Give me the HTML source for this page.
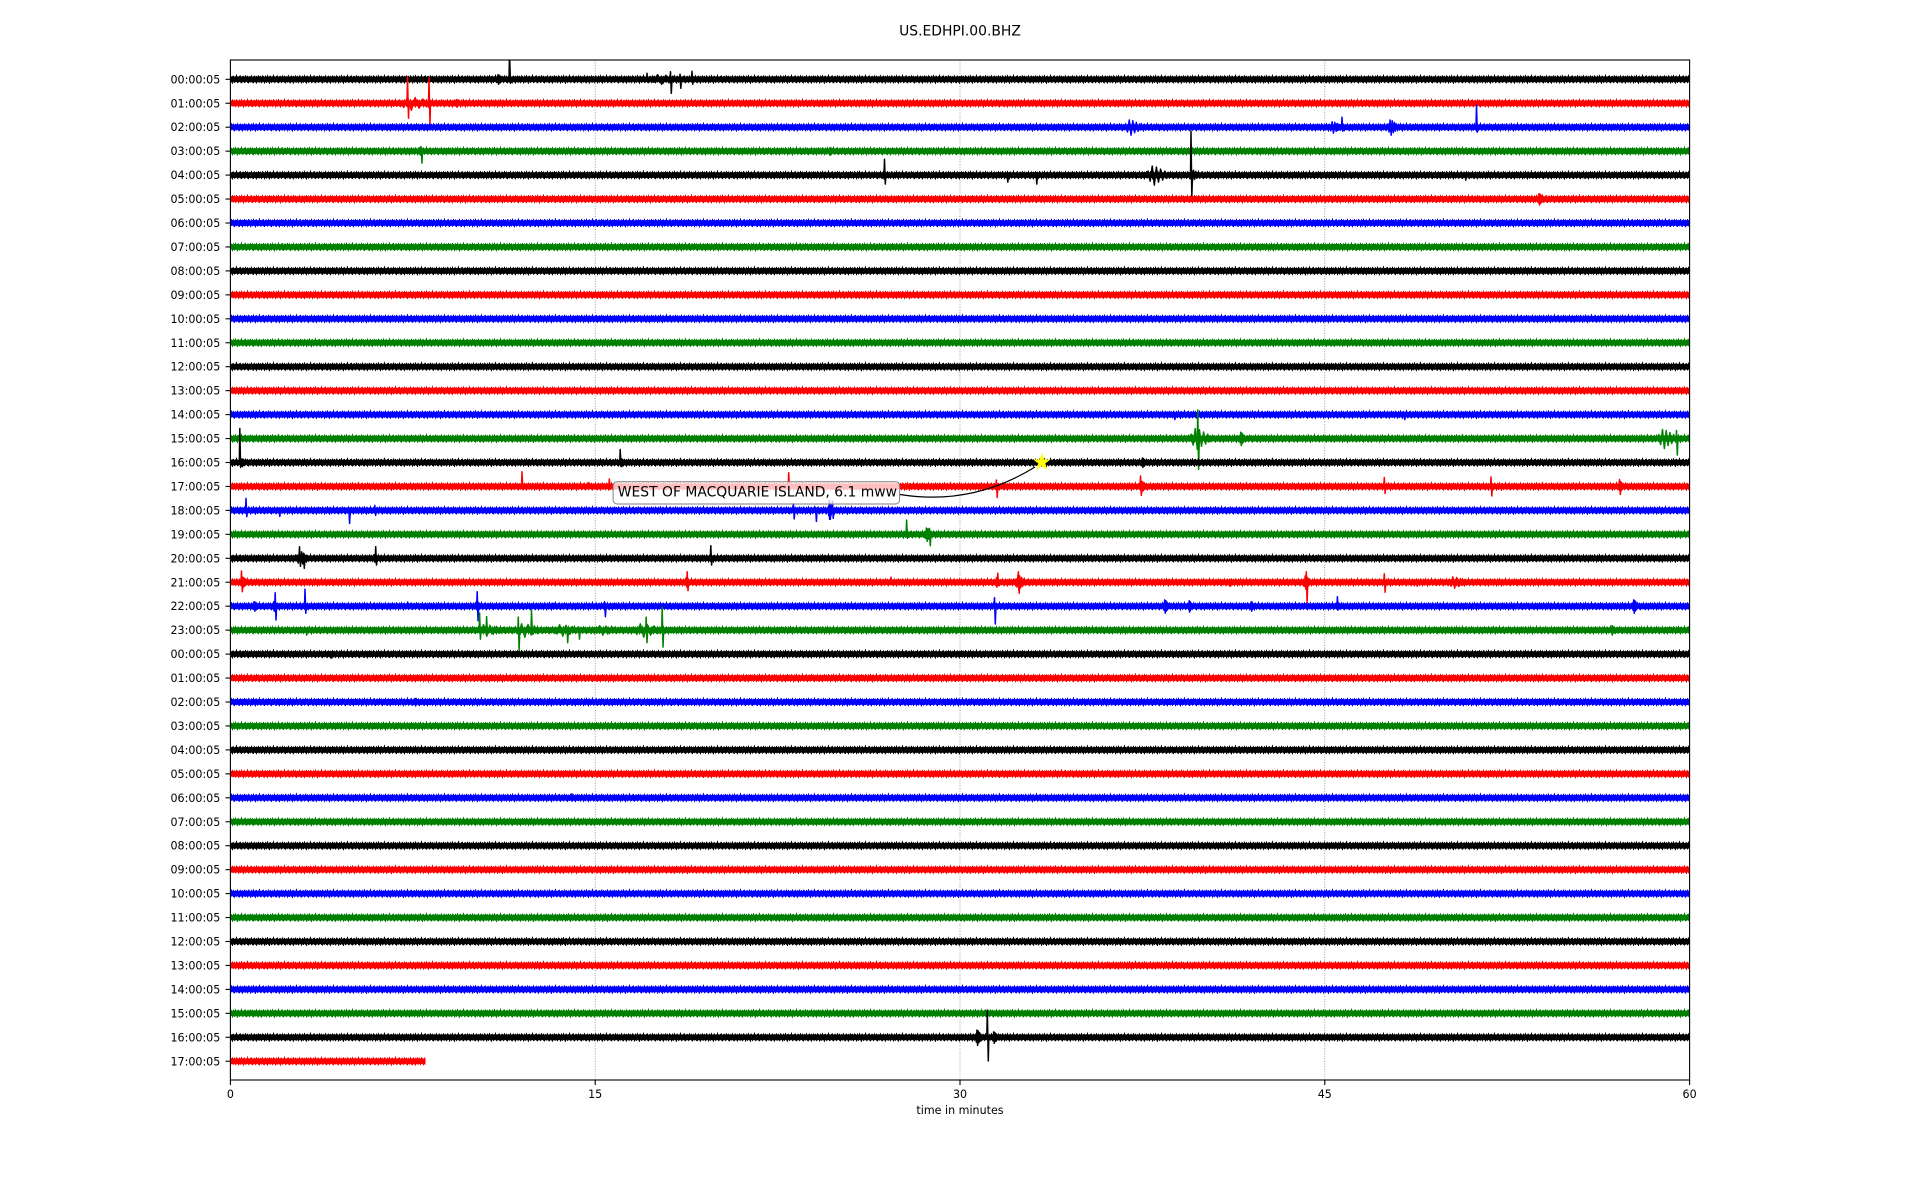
<!DOCTYPE html>
<html>
<head>
<meta charset="utf-8">
<style>
html,body{margin:0;padding:0;background:#fff;}
svg{display:block;}
text{font-family:"DejaVu Sans","Liberation Sans",sans-serif;fill:#000;}
</style>
</head>
<body>
<svg width="1920" height="1200" viewBox="0 0 1920 1200" xmlns="http://www.w3.org/2000/svg">
<defs>
<clipPath id="ax"><rect x="230.4" y="60" width="1459.2" height="1020"/></clipPath>
<path id="b" fill="none" vector-effect="non-scaling-stroke" d="M0,0 L0.08,-0.4 0.16,0.6 0.24,-0.9 0.32,1 0.4,-0.8 0.48,0.7 0.56,-0.6 0.64,0.5 0.72,-0.4 0.8,0.3 0.88,-0.2 0.96,0.1 1,0"/>
<path id="nz" fill="none" stroke-width="1" d="M0.5,3V9.4M1.5,2.5V8.9M2.5,3.2V9.9M3.5,2V9M4.5,2.8V8.7M5.5,3.4V10.2M6.5,2.2V9.1M7.5,3V9.5M8.5,1.6V8.8M9.5,3.1V9.3M10.5,2.7V10.5M11.5,2.4V8.9M12.5,3.3V9.6M13.5,2.9V9M14.5,1.2V8.8M15.5,3V9.8M16.5,3.2V9.2M17.5,2.5V8.7M18.5,2.1V9.4M19.5,3.4V10M20.5,2.8V9.1M21.5,2.6V8.9M22.5,3.1V9.7M23.5,1.9V9M24.5,3V8.6M25.5,2.4V9.5M26.5,3.3V10.1M27.5,2.7V9M28.5,3V9.3M29.5,1.7V8.8M30.5,3.2V9.6M31.5,2.9V9.9M32.5,2.3V8.9M33.5,3.1V9.2M34.5,2.6V10.4M35.5,3V9M36.5,2V9.1"/>
<pattern id="pk" patternUnits="userSpaceOnUse" x="0" y="-6" width="37" height="12"><use href="#nz" stroke="#000"/></pattern>
<pattern id="pr" patternUnits="userSpaceOnUse" x="11" y="-6" width="37" height="12"><use href="#nz" stroke="#ff0000"/></pattern>
<pattern id="pb" patternUnits="userSpaceOnUse" x="23" y="-6" width="37" height="12"><use href="#nz" stroke="#0000ff"/></pattern>
<pattern id="pg" patternUnits="userSpaceOnUse" x="5" y="-6" width="37" height="12"><use href="#nz" stroke="#008000"/></pattern>
</defs>

<rect x="0" y="0" width="1920" height="1200" fill="#fff"/>

<text x="960" y="35.7" font-size="13.9" text-anchor="middle">US.EDHPI.00.BHZ</text>

<g stroke="#8a8a8a" stroke-width="0.8" stroke-dasharray="1,1.6">
<line x1="595.2" y1="60" x2="595.2" y2="1080"/>
<line x1="960" y1="60" x2="960" y2="1080"/>
<line x1="1324.8" y1="60" x2="1324.8" y2="1080"/>
</g>

<g clip-path="url(#ax)" fill="none" stroke-width="1.5" stroke-linejoin="round">
<g transform="translate(0,79.3)" stroke="#000">
<rect x="230" y="-2.5" width="1460" height="5" fill="#000" stroke="none"/><rect x="230" y="-6" width="1460" height="12" fill="url(#pk)" stroke="none"/>
<use href="#b" transform="translate(496,0) scale(8,5)"/>
<use href="#b" transform="translate(645,0) scale(52,5)"/>
<path d="M509,0 L509.5,-26 L510.5,4 L511,0"/>
<path d="M670,0 L670.5,-7.6 L671.3,14 L672,0"/>
<path d="M679.5,0 L680,-5 L680.8,9 L681.5,0"/>
<path d="M691.5,0 L692,-8 L692.8,5 L693.5,0"/>
<path d="M646.5,0 L647,-6 L647.8,3 L648.5,0"/>
</g>
<g transform="translate(0,103.25)" stroke="#ff0000">
<rect x="230" y="-2.5" width="1460" height="5" fill="#ff0000" stroke="none"/><rect x="230" y="-6" width="1460" height="12" fill="url(#pr)" stroke="none"/>
<use href="#b" transform="translate(396,0) scale(48,7)"/>
<path d="M407,0 L407.5,-26.5 L408.5,15 L409,0"/>
<path d="M428.5,0 L429,-25.5 L430,21 L430.5,0"/>
<use href="#b" transform="translate(455,0) scale(6,4)"/>
</g>
<g transform="translate(0,127.2)" stroke="#0000ff">
<rect x="230" y="-2.5" width="1460" height="5" fill="#0000ff" stroke="none"/><rect x="230" y="-6" width="1460" height="12" fill="url(#pb)" stroke="none"/>
<use href="#b" transform="translate(1124,0) scale(22,8)"/>
<use href="#b" transform="translate(1328,0) scale(17,6)"/>
<path d="M1341.5,0 L1342,-10 L1342.8,4 L1343.5,0"/>
<use href="#b" transform="translate(1387,0) scale(13,8)"/>
<path d="M1476,0 L1476.5,-22 L1477.3,5 L1478,0"/>
</g>
<g transform="translate(0,151.15)" stroke="#008000">
<rect x="230" y="-2.5" width="1460" height="5" fill="#008000" stroke="none"/><rect x="230" y="-6" width="1460" height="12" fill="url(#pg)" stroke="none"/>
<use href="#b" transform="translate(418,0) scale(8,4)"/>
<path d="M420.5,0 L421,-4.5 L422,12 L422.5,0"/>
<use href="#b" transform="translate(829,0) scale(5,4)"/>
</g>
<g transform="translate(0,175.1)" stroke="#000">
<rect x="230" y="-2.5" width="1460" height="5" fill="#000" stroke="none"/><rect x="230" y="-6" width="1460" height="12" fill="url(#pk)" stroke="none"/>
<use href="#b" transform="translate(882,0) scale(7,4)"/>
<path d="M884,0 L884.5,-15.8 L885.3,9 L886,0"/>
<path d="M1006.5,0 L1007,-2 L1007.8,7 L1008.5,0"/>
<path d="M1035.5,0 L1036,-2 L1036.8,9 L1037.5,0"/>
<use href="#b" transform="translate(1146,0) scale(26,10)"/>
<use href="#b" transform="translate(1188,0) scale(14,6)"/>
<path d="M1190.5,0 L1191,-44 L1191.8,21.6 L1192.5,0"/>
<path d="M1464.5,0 L1465,-2 L1465.8,5 L1466.5,0"/>
</g>
<g transform="translate(0,199.05)" stroke="#ff0000">
<rect x="230" y="-2.5" width="1460" height="5" fill="#ff0000" stroke="none"/><rect x="230" y="-6" width="1460" height="12" fill="url(#pr)" stroke="none"/>
<use href="#b" transform="translate(1537,0) scale(8,6)"/>
</g>
<g transform="translate(0,223)"><rect x="230" y="-2.5" width="1460" height="5" fill="#0000ff"/><rect x="230" y="-6" width="1460" height="12" fill="url(#pb)"/></g>
<g transform="translate(0,246.95)"><rect x="230" y="-2.5" width="1460" height="5" fill="#008000"/><rect x="230" y="-6" width="1460" height="12" fill="url(#pg)"/></g>
<g transform="translate(0,270.9)"><rect x="230" y="-2.5" width="1460" height="5" fill="#000"/><rect x="230" y="-6" width="1460" height="12" fill="url(#pk)"/></g>
<g transform="translate(0,294.85)"><rect x="230" y="-2.5" width="1460" height="5" fill="#ff0000"/><rect x="230" y="-6" width="1460" height="12" fill="url(#pr)"/></g>
<g transform="translate(0,318.8)"><rect x="230" y="-2.5" width="1460" height="5" fill="#0000ff"/><rect x="230" y="-6" width="1460" height="12" fill="url(#pb)"/></g>
<g transform="translate(0,342.75)"><rect x="230" y="-2.5" width="1460" height="5" fill="#008000"/><rect x="230" y="-6" width="1460" height="12" fill="url(#pg)"/></g>
<g transform="translate(0,366.7)"><rect x="230" y="-2.5" width="1460" height="5" fill="#000"/><rect x="230" y="-6" width="1460" height="12" fill="url(#pk)"/></g>
<g transform="translate(0,390.65)"><rect x="230" y="-2.5" width="1460" height="5" fill="#ff0000"/><rect x="230" y="-6" width="1460" height="12" fill="url(#pr)"/></g>
<g transform="translate(0,414.6)" stroke="#0000ff">
<rect x="230" y="-2.5" width="1460" height="5" fill="#0000ff" stroke="none"/><rect x="230" y="-6" width="1460" height="12" fill="url(#pb)" stroke="none"/>
<path d="M1173.5,0 L1174,-2 L1174.8,5 L1175.5,0"/>
<path d="M1403.5,0 L1404,-2 L1404.8,5 L1405.5,0"/>
</g>
<g transform="translate(0,438.55)" stroke="#008000">
<rect x="230" y="-2.5" width="1460" height="5" fill="#008000" stroke="none"/><rect x="230" y="-6" width="1460" height="12" fill="url(#pg)" stroke="none"/>
<use href="#b" transform="translate(1189,0) scale(26,11)"/>
<path d="M1197.3,0 L1197.8,-28.5 L1198.6,30.8 L1199.3,0"/>
<use href="#b" transform="translate(1239,0) scale(7,7)"/>
<use href="#b" transform="translate(1657,0) scale(23,10)"/>
<path d="M1676,0 L1676.5,-8 L1677.3,16.5 L1678,0"/>
</g>
<g transform="translate(0,462.5)" stroke="#000">
<rect x="230" y="-2.5" width="1460" height="5" fill="#000" stroke="none"/><rect x="230" y="-6" width="1460" height="12" fill="url(#pk)" stroke="none"/>
<use href="#b" transform="translate(240,0) scale(8,4)"/>
<path d="M239.3,0 L239.8,-34 L240.6,5 L241.3,0"/>
<use href="#b" transform="translate(620,0) scale(6,4)"/>
<path d="M619.7,0 L620.2,-13 L621,4 L621.7,0"/>
<use href="#b" transform="translate(1141,0) scale(6,5)"/>
</g>
<g transform="translate(0,486.45)" stroke="#ff0000">
<rect x="230" y="-2.5" width="1460" height="5" fill="#ff0000" stroke="none"/><rect x="230" y="-6" width="1460" height="12" fill="url(#pr)" stroke="none"/>
<path d="M521.5,0 L522,-14.7 L522.8,3 L523.5,0"/>
<path d="M587.5,0 L588,-4 L588.8,2 L589.5,0"/>
<path d="M608.8,0 L609.3,-7.5 L610,3 L610.8,0"/>
<path d="M788.2,0 L788.7,-13.7 L789.5,3 L790.2,0"/>
<path d="M995.9,0 L996.4,-6.5 L997.2,11 L997.9,0"/>
<use href="#b" transform="translate(1139,0) scale(9,6)"/>
<path d="M1140,0 L1140.5,-10.5 L1141.3,9 L1142,0"/>
<path d="M1383.8,0 L1384.3,-9 L1385.1,7 L1385.8,0"/>
<path d="M1490.5,0 L1491,-9.5 L1491.8,9.5 L1492.5,0"/>
<use href="#b" transform="translate(1618,0) scale(7,6)"/>
<path d="M1619,0 L1619.5,-7 L1620.3,8 L1621,0"/>
</g>
<g transform="translate(0,510.4)" stroke="#0000ff">
<rect x="230" y="-2.5" width="1460" height="5" fill="#0000ff" stroke="none"/><rect x="230" y="-6" width="1460" height="12" fill="url(#pb)" stroke="none"/>
<path d="M245.5,0 L246,-12 L246.8,6.3 L247.5,0"/>
<path d="M278.5,0 L279,-2 L279.8,6 L280.5,0"/>
<path d="M348.3,0 L348.8,-3 L349.6,13 L350.3,0"/>
<path d="M374.3,0 L374.8,-5 L375.6,5 L376.3,0"/>
<path d="M792.9,0 L793.4,-7 L794.2,8.6 L794.9,0"/>
<path d="M815.1,0 L815.6,-3 L816.4,11 L817.1,0"/>
<use href="#b" transform="translate(828,0) scale(5,9)"/>
<path d="M829,0 L829.5,-10 L830.3,9 L831,0"/>
<path d="M832,0 L832.5,-9 L833.2,8 L834,0"/>
</g>
<g transform="translate(0,534.35)" stroke="#008000">
<rect x="230" y="-2.5" width="1460" height="5" fill="#008000" stroke="none"/><rect x="230" y="-6" width="1460" height="12" fill="url(#pg)" stroke="none"/>
<path d="M906.1,0 L906.6,-14.4 L907.4,4 L908.1,0"/>
<use href="#b" transform="translate(924,0) scale(10,7)"/>
<path d="M929,0 L929.5,-6 L930.3,11.4 L931,0"/>
</g>
<g transform="translate(0,558.3)" stroke="#000">
<rect x="230" y="-2.5" width="1460" height="5" fill="#000" stroke="none"/><rect x="230" y="-6" width="1460" height="12" fill="url(#pk)" stroke="none"/>
<use href="#b" transform="translate(296,0) scale(14,8)"/>
<path d="M299,0 L299.5,-11.6 L300.3,6 L301,0"/>
<path d="M303,0 L303.5,-5 L304.3,10 L305,0"/>
<use href="#b" transform="translate(373,0) scale(6,4)"/>
<path d="M375.2,0 L375.7,-11.6 L376.5,6.7 L377.2,0"/>
<path d="M710.3,0 L710.8,-12.6 L711.6,6.7 L712.3,0"/>
</g>
<g transform="translate(0,582.25)" stroke="#ff0000">
<rect x="230" y="-2.5" width="1460" height="5" fill="#ff0000" stroke="none"/><rect x="230" y="-6" width="1460" height="12" fill="url(#pr)" stroke="none"/>
<use href="#b" transform="translate(240,0) scale(9,6)"/>
<path d="M241,0 L241.5,-11.3 L242.3,9.5 L243,0"/>
<use href="#b" transform="translate(685,0) scale(6,5)"/>
<path d="M686.7,0 L687.2,-10.5 L688,8.5 L688.7,0"/>
<path d="M890.5,0 L891,-5 L891.8,2 L892.5,0"/>
<use href="#b" transform="translate(995,0) scale(6,5)"/>
<path d="M997.3,0 L997.8,-9 L998.6,3 L999.3,0"/>
<use href="#b" transform="translate(1015,0) scale(12,8)"/>
<path d="M1017.9,0 L1018.4,-10.5 L1019.2,11 L1019.9,0"/>
<path d="M1229.3,0 L1229.8,-3 L1230.6,4 L1231.3,0"/>
<use href="#b" transform="translate(1303,0) scale(9,7)"/>
<path d="M1305.8,0 L1306.3,-10.5 L1307.1,21 L1307.8,0"/>
<path d="M1383.8,0 L1384.3,-8.5 L1385.1,10 L1385.8,0"/>
<path d="M1416,0 L1416.4,-2 L1417.2,4 L1418,0"/>
<use href="#b" transform="translate(1447,0) scale(24,6)"/>
</g>
<g transform="translate(0,606.2)" stroke="#0000ff">
<rect x="230" y="-2.5" width="1460" height="5" fill="#0000ff" stroke="none"/><rect x="230" y="-6" width="1460" height="12" fill="url(#pb)" stroke="none"/>
<use href="#b" transform="translate(252,0) scale(9,5)"/>
<use href="#b" transform="translate(272,0) scale(7,5)"/>
<path d="M274.7,0 L275.2,-13.5 L276,13.8 L276.7,0"/>
<path d="M304.5,0 L305,-17 L305.8,7 L306.5,0"/>
<path d="M407.3,0 L407.8,-4 L408.6,3 L409.3,0"/>
<use href="#b" transform="translate(475,0) scale(8,5)"/>
<path d="M476.7,0 L477.2,-14.5 L478,14.5 L478.7,0"/>
<path d="M553.5,0 L554,-3 L554.8,2 L555.5,0"/>
<path d="M604.1,0 L604.6,-4.5 L605.4,10.5 L606.1,0"/>
<path d="M994,0 L994.5,-8.5 L995.3,17.8 L996,0"/>
<use href="#b" transform="translate(1163,0) scale(7,7)"/>
<use href="#b" transform="translate(1188,0) scale(5,6)"/>
<use href="#b" transform="translate(1250,0) scale(5,5)"/>
<use href="#b" transform="translate(1336,0) scale(6,4)"/>
<path d="M1336.9,0 L1337.4,-9.5 L1338.2,3 L1338.9,0"/>
<use href="#b" transform="translate(1632,0) scale(7,7)"/>
</g>
<g transform="translate(0,630.15)" stroke="#008000">
<rect x="230" y="-2.5" width="1460" height="5" fill="#008000" stroke="none"/><rect x="230" y="-6" width="1460" height="12" fill="url(#pg)" stroke="none"/>
<path d="M305.4,0 L305.9,-2 L306.7,5 L307.4,0"/>
<use href="#b" transform="translate(474,0) scale(40,6)"/>
<use href="#b" transform="translate(512,0) scale(40,7)"/>
<use href="#b" transform="translate(550,0) scale(40,6)"/>
<use href="#b" transform="translate(590,0) scale(40,5)"/>
<use href="#b" transform="translate(630,0) scale(43,7)"/>
<path d="M479.1,0 L479.6,-17 L480.4,9 L481.1,0"/>
<path d="M486.1,0 L486.6,-13.5 L487.4,3 L488.1,0"/>
<path d="M517.8,0 L518.3,-13 L519.1,20.5 L519.8,0"/>
<path d="M531,0 L531.5,-20 L532.3,4 L533,0"/>
<path d="M566.4,0 L566.9,-3 L567.7,12.5 L568.4,0"/>
<path d="M578.2,0 L578.7,-3 L579.5,9 L580.2,0"/>
<path d="M645.7,0 L646.2,-13 L647,12.5 L647.7,0"/>
<path d="M661.7,0 L662.2,-23 L663,17 L663.7,0"/>
<use href="#b" transform="translate(1611,0) scale(4,5)"/>
</g>
<g transform="translate(0,654.1)" stroke="#000">
<rect x="230" y="-2.5" width="1460" height="5" fill="#000" stroke="none"/><rect x="230" y="-6" width="1460" height="12" fill="url(#pk)" stroke="none"/>
<path d="M330.5,0 L331,-2 L331.8,4 L332.5,0"/>
</g>
<g transform="translate(0,678.05)"><rect x="230" y="-2.5" width="1460" height="5" fill="#ff0000"/><rect x="230" y="-6" width="1460" height="12" fill="url(#pr)"/></g>
<g transform="translate(0,702)" stroke="#0000ff"><rect x="230" y="-2.5" width="1460" height="5" fill="#0000ff" stroke="none"/><rect x="230" y="-6" width="1460" height="12" fill="url(#pb)" stroke="none"/><use href="#b" transform="translate(414,0) scale(5,4)"/></g>
<g transform="translate(0,725.95)"><rect x="230" y="-2.5" width="1460" height="5" fill="#008000"/><rect x="230" y="-6" width="1460" height="12" fill="url(#pg)"/></g>
<g transform="translate(0,749.9)"><rect x="230" y="-2.5" width="1460" height="5" fill="#000"/><rect x="230" y="-6" width="1460" height="12" fill="url(#pk)"/></g>
<g transform="translate(0,773.85)"><rect x="230" y="-2.5" width="1460" height="5" fill="#ff0000"/><rect x="230" y="-6" width="1460" height="12" fill="url(#pr)"/></g>
<g transform="translate(0,797.8)" stroke="#0000ff"><rect x="230" y="-2.5" width="1460" height="5" fill="#0000ff" stroke="none"/><rect x="230" y="-6" width="1460" height="12" fill="url(#pb)" stroke="none"/><path d="M571.5,0 L572,-4 L572.8,2 L573.5,0"/></g>
<g transform="translate(0,821.75)"><rect x="230" y="-2.5" width="1460" height="5" fill="#008000"/><rect x="230" y="-6" width="1460" height="12" fill="url(#pg)"/></g>
<g transform="translate(0,845.7)"><rect x="230" y="-2.5" width="1460" height="5" fill="#000"/><rect x="230" y="-6" width="1460" height="12" fill="url(#pk)"/></g>
<g transform="translate(0,869.65)"><rect x="230" y="-2.5" width="1460" height="5" fill="#ff0000"/><rect x="230" y="-6" width="1460" height="12" fill="url(#pr)"/></g>
<g transform="translate(0,893.6)"><rect x="230" y="-2.5" width="1460" height="5" fill="#0000ff"/><rect x="230" y="-6" width="1460" height="12" fill="url(#pb)"/></g>
<g transform="translate(0,917.55)"><rect x="230" y="-2.5" width="1460" height="5" fill="#008000"/><rect x="230" y="-6" width="1460" height="12" fill="url(#pg)"/></g>
<g transform="translate(0,941.5)"><rect x="230" y="-2.5" width="1460" height="5" fill="#000"/><rect x="230" y="-6" width="1460" height="12" fill="url(#pk)"/></g>
<g transform="translate(0,965.45)"><rect x="230" y="-2.5" width="1460" height="5" fill="#ff0000"/><rect x="230" y="-6" width="1460" height="12" fill="url(#pr)"/></g>
<g transform="translate(0,989.4)"><rect x="230" y="-2.5" width="1460" height="5" fill="#0000ff"/><rect x="230" y="-6" width="1460" height="12" fill="url(#pb)"/></g>
<g transform="translate(0,1013.35)"><rect x="230" y="-2.5" width="1460" height="5" fill="#008000"/><rect x="230" y="-6" width="1460" height="12" fill="url(#pg)"/></g>
<g transform="translate(0,1037.3)" stroke="#000">
<rect x="230" y="-2.5" width="1460" height="5" fill="#000" stroke="none"/><rect x="230" y="-6" width="1460" height="12" fill="url(#pk)" stroke="none"/>
<use href="#b" transform="translate(975,0) scale(8,8)"/>
<path d="M986.8,0 L987.3,-27.3 L988.3,23.7 L988.8,0"/>
<use href="#b" transform="translate(992,0) scale(7,6)"/>
</g>
<g transform="translate(0,1061.25)"><rect x="230" y="-2.5" width="195.5" height="5" fill="#ff0000"/><rect x="230" y="-6" width="195.5" height="12" fill="url(#pr)"/></g>
</g>

<path d="M900,494.5 Q972,506 1035,467" fill="none" stroke="#000" stroke-width="1.2"/>
<polygon points="1041.8,454.3 1043.7,459.7 1049.4,459.8 1044.9,463.3 1046.5,468.8 1041.8,465.6 1037.1,468.8 1038.7,463.3 1034.2,459.8 1039.9,459.7" fill="#ffff00" stroke="#ffff00" stroke-width="0.8"/>
<rect x="613.1" y="481.7" width="286.5" height="22.3" rx="4" ry="4" fill="#fff" fill-opacity="0.75" stroke="#7f7f7f" stroke-width="1"/>
<text x="617.8" y="496.7" font-size="13.9">WEST OF MACQUARIE ISLAND, 6.1 mww</text>

<rect x="230.4" y="60" width="1459.2" height="1020" fill="none" stroke="#000" stroke-width="1.1"/>

<g stroke="#000" stroke-width="1.1">
<line x1="230.4" y1="1080" x2="230.4" y2="1085"/>
<line x1="595.2" y1="1080" x2="595.2" y2="1085"/>
<line x1="960" y1="1080" x2="960" y2="1085"/>
<line x1="1324.8" y1="1080" x2="1324.8" y2="1085"/>
<line x1="1689.6" y1="1080" x2="1689.6" y2="1085"/>
</g>
<g font-size="11.1" text-anchor="middle">
<text x="230.4" y="1098">0</text>
<text x="595.2" y="1098">15</text>
<text x="960" y="1098">30</text>
<text x="1324.8" y="1098">45</text>
<text x="1689.6" y="1098">60</text>
<text x="960" y="1114">time in minutes</text>
</g>

<g stroke="#000" stroke-width="1.1">
<line x1="225.5" y1="79.3" x2="230.4" y2="79.3"/><line x1="225.5" y1="103.25" x2="230.4" y2="103.25"/><line x1="225.5" y1="127.2" x2="230.4" y2="127.2"/><line x1="225.5" y1="151.15" x2="230.4" y2="151.15"/><line x1="225.5" y1="175.1" x2="230.4" y2="175.1"/><line x1="225.5" y1="199.05" x2="230.4" y2="199.05"/><line x1="225.5" y1="223" x2="230.4" y2="223"/><line x1="225.5" y1="246.95" x2="230.4" y2="246.95"/><line x1="225.5" y1="270.9" x2="230.4" y2="270.9"/><line x1="225.5" y1="294.85" x2="230.4" y2="294.85"/><line x1="225.5" y1="318.8" x2="230.4" y2="318.8"/><line x1="225.5" y1="342.75" x2="230.4" y2="342.75"/><line x1="225.5" y1="366.7" x2="230.4" y2="366.7"/><line x1="225.5" y1="390.65" x2="230.4" y2="390.65"/><line x1="225.5" y1="414.6" x2="230.4" y2="414.6"/><line x1="225.5" y1="438.55" x2="230.4" y2="438.55"/><line x1="225.5" y1="462.5" x2="230.4" y2="462.5"/><line x1="225.5" y1="486.45" x2="230.4" y2="486.45"/><line x1="225.5" y1="510.4" x2="230.4" y2="510.4"/><line x1="225.5" y1="534.35" x2="230.4" y2="534.35"/><line x1="225.5" y1="558.3" x2="230.4" y2="558.3"/><line x1="225.5" y1="582.25" x2="230.4" y2="582.25"/><line x1="225.5" y1="606.2" x2="230.4" y2="606.2"/><line x1="225.5" y1="630.15" x2="230.4" y2="630.15"/><line x1="225.5" y1="654.1" x2="230.4" y2="654.1"/><line x1="225.5" y1="678.05" x2="230.4" y2="678.05"/><line x1="225.5" y1="702" x2="230.4" y2="702"/><line x1="225.5" y1="725.95" x2="230.4" y2="725.95"/><line x1="225.5" y1="749.9" x2="230.4" y2="749.9"/><line x1="225.5" y1="773.85" x2="230.4" y2="773.85"/><line x1="225.5" y1="797.8" x2="230.4" y2="797.8"/><line x1="225.5" y1="821.75" x2="230.4" y2="821.75"/><line x1="225.5" y1="845.7" x2="230.4" y2="845.7"/><line x1="225.5" y1="869.65" x2="230.4" y2="869.65"/><line x1="225.5" y1="893.6" x2="230.4" y2="893.6"/><line x1="225.5" y1="917.55" x2="230.4" y2="917.55"/><line x1="225.5" y1="941.5" x2="230.4" y2="941.5"/><line x1="225.5" y1="965.45" x2="230.4" y2="965.45"/><line x1="225.5" y1="989.4" x2="230.4" y2="989.4"/><line x1="225.5" y1="1013.35" x2="230.4" y2="1013.35"/><line x1="225.5" y1="1037.3" x2="230.4" y2="1037.3"/><line x1="225.5" y1="1061.25" x2="230.4" y2="1061.25"/>
</g>
<g font-size="11.1" text-anchor="end">
<text x="220.3" y="83.3">00:00:05</text>
<text x="220.3" y="107.25">01:00:05</text>
<text x="220.3" y="131.2">02:00:05</text>
<text x="220.3" y="155.15">03:00:05</text>
<text x="220.3" y="179.1">04:00:05</text>
<text x="220.3" y="203.05">05:00:05</text>
<text x="220.3" y="227">06:00:05</text>
<text x="220.3" y="250.95">07:00:05</text>
<text x="220.3" y="274.9">08:00:05</text>
<text x="220.3" y="298.85">09:00:05</text>
<text x="220.3" y="322.8">10:00:05</text>
<text x="220.3" y="346.75">11:00:05</text>
<text x="220.3" y="370.7">12:00:05</text>
<text x="220.3" y="394.65">13:00:05</text>
<text x="220.3" y="418.6">14:00:05</text>
<text x="220.3" y="442.55">15:00:05</text>
<text x="220.3" y="466.5">16:00:05</text>
<text x="220.3" y="490.45">17:00:05</text>
<text x="220.3" y="514.4">18:00:05</text>
<text x="220.3" y="538.35">19:00:05</text>
<text x="220.3" y="562.3">20:00:05</text>
<text x="220.3" y="586.25">21:00:05</text>
<text x="220.3" y="610.2">22:00:05</text>
<text x="220.3" y="634.15">23:00:05</text>
<text x="220.3" y="658.1">00:00:05</text>
<text x="220.3" y="682.05">01:00:05</text>
<text x="220.3" y="706">02:00:05</text>
<text x="220.3" y="729.95">03:00:05</text>
<text x="220.3" y="753.9">04:00:05</text>
<text x="220.3" y="777.85">05:00:05</text>
<text x="220.3" y="801.8">06:00:05</text>
<text x="220.3" y="825.75">07:00:05</text>
<text x="220.3" y="849.7">08:00:05</text>
<text x="220.3" y="873.65">09:00:05</text>
<text x="220.3" y="897.6">10:00:05</text>
<text x="220.3" y="921.55">11:00:05</text>
<text x="220.3" y="945.5">12:00:05</text>
<text x="220.3" y="969.45">13:00:05</text>
<text x="220.3" y="993.4">14:00:05</text>
<text x="220.3" y="1017.35">15:00:05</text>
<text x="220.3" y="1041.3">16:00:05</text>
<text x="220.3" y="1065.25">17:00:05</text>
</g>
</svg>
</body>
</html>
